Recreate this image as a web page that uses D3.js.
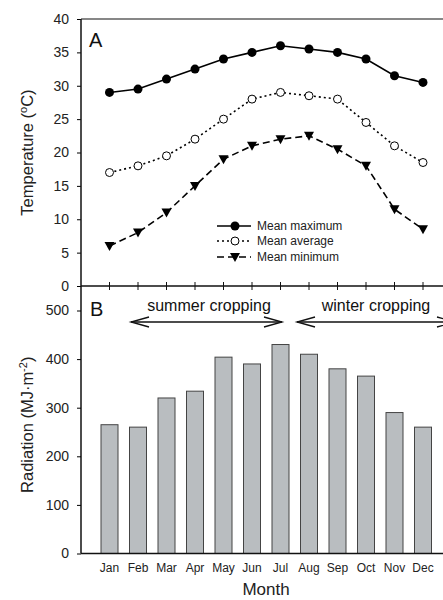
<!DOCTYPE html>
<html lang="en">
<head>
    <meta charset="UTF-8">
    <title>Temperature and Radiation</title>
    <script src="https://cdnjs.cloudflare.com/ajax/libs/d3/7.8.5/d3.min.js"></script>
    <style>
        body { margin: 0; padding: 0; background: #fff; }
        svg { display: block; font-family: Arial, "Liberation Sans", sans-serif; }
    </style>
</head>
<body>
    <div id="chart"></div>
    <script>
        // Data
        const months = ['Jan', 'Feb', 'Mar', 'Apr', 'May', 'Jun', 'Jul', 'Aug', 'Sep', 'Oct', 'Nov', 'Dec'];
        const meanMax = [29, 29.5, 31, 32.5, 34, 35, 36, 35.5, 35, 34, 31.5, 30.5];
        const meanAvg = [17, 18, 19.5, 22, 25, 28, 29, 28.5, 28, 24.5, 21, 18.5];
        const meanMin = [6, 8, 11, 15, 19, 21, 22, 22.5, 20.5, 18, 11.5, 8.5];
        const radiation = [265, 260, 320, 334, 404, 390, 430, 410, 380, 365, 290, 260];
        const tempTicks = [0, 5, 10, 15, 20, 25, 30, 35, 40];
        const radTicks = [0, 100, 200, 300, 400, 500];

        const width = 443, height = 600;
        const left = 81, right = 443;
        const topA = 19, bottomA = 286, bottomB = 553.5;

        const svg = d3.select('#chart').append('svg')
            .attr('width', width)
            .attr('height', height);

        // month positions: one step of padding on the left, chart cut at right
        const step = 28.5;
        const x = d3.scalePoint()
            .domain(['', ...months])
            .range([left, left + 12 * step]);

        const yT = d3.scaleLinear().domain([0, 40]).range([bottomA, topA]);
        const yR = d3.scaleLinear().domain([0, 500]).range([bottomB, bottomB - 5 * 48.6]);

        // ---- panel A ----
        const gA = svg.append('g');
        gA.append('g')
            .attr('transform', `translate(${left},0)`)
            .call(d3.axisLeft(yT).tickValues(tempTicks).tickSize(4).tickPadding(8))
            .call(g => g.select('.domain').remove())
            .call(g => g.selectAll('text').attr('font-size', 14).attr('fill', '#222'));
        gA.append('line')
            .attr('x1', left).attr('x2', left).attr('y1', topA).attr('y2', bottomB)
            .attr('stroke', '#111').attr('stroke-width', 1.5);
        gA.append('line')
            .attr('x1', left).attr('x2', right).attr('y1', topA).attr('y2', topA)
            .attr('stroke', '#111').attr('stroke-width', 1.2);
        gA.append('line')
            .attr('x1', left).attr('x2', right).attr('y1', bottomA).attr('y2', bottomA)
            .attr('stroke', '#111').attr('stroke-width', 1.5);
        gA.selectAll('.mtick').data(months).enter().append('line')
            .attr('x1', d => x(d)).attr('x2', d => x(d))
            .attr('y1', bottomA - 4).attr('y2', bottomA + 4)
            .attr('stroke', '#111').attr('stroke-width', 1);

        const line = d3.line().x((d, i) => x(months[i])).y(d => yT(d));
        const series = [
            { name: 'Mean maximum', values: meanMax, dash: null, marker: 'dot' },
            { name: 'Mean average', values: meanAvg, dash: '2,3', marker: 'open' },
            { name: 'Mean minimum', values: meanMin, dash: '7,4', marker: 'tri' }
        ];

        function drawMarker(g, type, cx, cy) {
            if (type === 'dot') {
                g.append('circle').attr('cx', cx).attr('cy', cy).attr('r', 4.5).attr('fill', '#000');
            } else if (type === 'open') {
                g.append('circle').attr('cx', cx).attr('cy', cy).attr('r', 4).attr('fill', '#fff')
                    .attr('stroke', '#000').attr('stroke-width', 1);
            } else {
                g.append('path')
                    .attr('d', `M${cx - 5},${cy - 4}L${cx + 5},${cy - 4}L${cx},${cy + 5}Z`)
                    .attr('fill', '#000');
            }
        }

        series.forEach(s => {
            gA.append('path')
                .attr('d', line(s.values))
                .attr('fill', 'none').attr('stroke', '#000')
                .attr('stroke-width', 1.6)
                .attr('stroke-dasharray', s.dash);
            s.values.forEach((v, i) => drawMarker(gA, s.marker, x(months[i]), yT(v)));
        });

        // legend
        const legY = [226, 241, 257];
        series.forEach((s, i) => {
            gA.append('line')
                .attr('x1', 217).attr('x2', 251).attr('y1', legY[i]).attr('y2', legY[i])
                .attr('stroke', '#000').attr('stroke-width', 1.6)
                .attr('stroke-dasharray', s.dash);
            drawMarker(gA, s.marker, 235, legY[i]);
            gA.append('text')
                .attr('x', 257).attr('y', legY[i] + 4)
                .attr('font-size', 12).attr('fill', '#222')
                .text(s.name);
        });

        gA.append('text').attr('x', 89).attr('y', 47).attr('font-size', 20).attr('fill', '#111').text('A');

        const tLab = gA.append('text')
            .attr('transform', `translate(33,${(topA + bottomA) / 2}) rotate(-90)`)
            .attr('text-anchor', 'middle')
            .attr('font-size', 16.5).attr('fill', '#222');
        tLab.append('tspan').text('Temperature (');
        tLab.append('tspan').attr('font-size', 11).attr('dy', -6).text('o');
        tLab.append('tspan').attr('dy', 6).text('C)');

        // ---- panel B ----
        const gB = svg.append('g');
        gB.append('g')
            .attr('transform', `translate(${left},0)`)
            .call(d3.axisLeft(yR).tickValues(radTicks).tickSize(4).tickPadding(8))
            .call(g => g.select('.domain').remove())
            .call(g => g.selectAll('text').attr('font-size', 14).attr('fill', '#222'));

        const barW = 17;
        gB.selectAll('.bar').data(radiation).enter().append('rect')
            .attr('x', (d, i) => x(months[i]) - barW / 2)
            .attr('y', d => yR(d))
            .attr('width', barW)
            .attr('height', d => bottomB - yR(d))
            .attr('fill', '#b9bdc0')
            .attr('stroke', '#444').attr('stroke-width', 1);

        gB.append('line')
            .attr('x1', left).attr('x2', right).attr('y1', bottomB).attr('y2', bottomB)
            .attr('stroke', '#111').attr('stroke-width', 1.5);

        gB.selectAll('.mlab').data(months).enter().append('text')
            .attr('x', d => x(d)).attr('y', 572)
            .attr('text-anchor', 'middle')
            .attr('font-size', 12).attr('fill', '#222')
            .text(d => d);

        gB.append('text').attr('x', 90).attr('y', 316).attr('font-size', 20).attr('fill', '#111').text('B');

        // cropping arrows
        function arrow(x1, x2, yy, heads) {
            gB.append('line').attr('x1', x1).attr('x2', x2).attr('y1', yy).attr('y2', yy)
                .attr('stroke', '#111').attr('stroke-width', 1.3);
            heads.forEach(h => {
                const hx = h === 'l' ? x1 : x2;
                const d = h === 'l' ? 1 : -1;
                gB.append('path')
                    .attr('d', `M${hx + d * 18},${yy - 5}L${hx},${yy}L${hx + d * 18},${yy + 5}`)
                    .attr('fill', 'none').attr('stroke', '#111').attr('stroke-width', 1.3);
            });
        }
        arrow(131, 282, 322, ['l', 'r']);
        arrow(297, 455, 322, ['l', 'r']);
        gB.append('text').attr('x', 209).attr('y', 311).attr('text-anchor', 'middle')
            .attr('font-size', 16).attr('fill', '#111').text('summer cropping');
        gB.append('text').attr('x', 376).attr('y', 311).attr('text-anchor', 'middle')
            .attr('font-size', 16).attr('fill', '#111').text('winter cropping');

        const rLab = gB.append('text')
            .attr('transform', `translate(33,${(bottomA + bottomB) / 2 + 5}) rotate(-90)`)
            .attr('text-anchor', 'middle')
            .attr('font-size', 16.5).attr('fill', '#222');
        rLab.append('tspan').text('Radiation (MJ\u00b7m');
        rLab.append('tspan').attr('font-size', 11).attr('dy', -6).text('-2');
        rLab.append('tspan').attr('dy', 6).text(')');

        svg.append('text').attr('x', 266).attr('y', 595).attr('text-anchor', 'middle')
            .attr('font-size', 17).attr('fill', '#222').text('Month');
    </script>
</body>
</html>
